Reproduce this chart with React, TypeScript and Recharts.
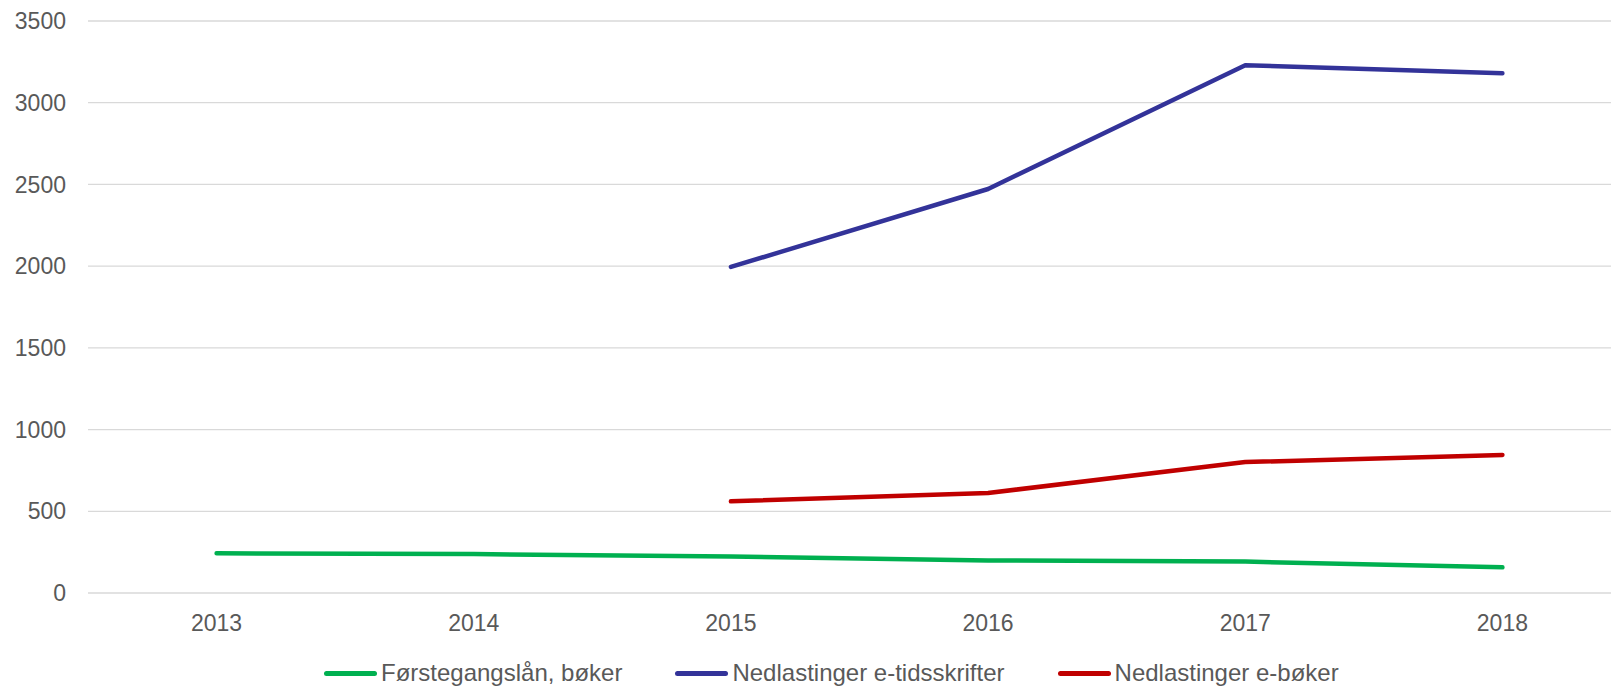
import React from "react";
import { LineChart, Line, XAxis, YAxis, CartesianGrid } from "recharts";

const years = ["2013", "2014", "2015", "2016", "2017", "2018"];
const forstegangslan = [243, 238, 224, 199, 192, 157];
const tidsskrifter: (number | null)[] = [null, null, 1995, 2472, 3229, 3180];
const eboker: (number | null)[] = [null, null, 561, 612, 801, 845];
const yTicks = [0, 500, 1000, 1500, 2000, 2500, 3000, 3500];

const series = [
  { key: "forstegangslan", name: "Førstegangslån, bøker", color: "#00B050" },
  { key: "tidsskrifter", name: "Nedlastinger e-tidsskrifter", color: "#333399" },
  { key: "eboker", name: "Nedlastinger e-bøker", color: "#C00000" },
];

const data = years.map((y, i) => ({
  year: y,
  forstegangslan: forstegangslan[i],
  tidsskrifter: tidsskrifter[i],
  eboker: eboker[i],
}));

const FONT = "'Liberation Sans', Arial, sans-serif";
const TEXT = "#595959";

export default function App() {
  return (
    <div style={{ width: 1611, height: 679, overflow: "hidden", position: "relative" }}>
      <LineChart
        width={1632}
        height={679}
        data={data}
        margin={{ top: 13, right: 9, bottom: 64, left: 0 }}
      >
        <CartesianGrid vertical={false} stroke="#d9d9d9" strokeWidth={1.3} />
        <XAxis
          dataKey="year"
          axisLine={false}
          tickLine={false}
          tickSize={0}
          tickMargin={22}
          padding={{ left: 128.6, right: 128.6 }}
          tick={{ fill: TEXT, fontSize: 23, fontFamily: FONT }}
        />
        <YAxis
          width={80}
          domain={[0, 3500]}
          ticks={yTicks}
          axisLine={false}
          tickLine={false}
          tickSize={0}
          tickMargin={22}
          tick={{ fill: TEXT, fontSize: 23, fontFamily: FONT }}
        />
        {series.map((s) => (
          <Line
            key={s.key}
            type="linear"
            dataKey={s.key}
            name={s.name}
            stroke={s.color}
            strokeWidth={4.5}
            strokeLinecap="round"
            strokeLinejoin="round"
            dot={false}
            activeDot={false}
            connectNulls={false}
            isAnimationActive={false}
          />
        ))}
      </LineChart>
      <div
        style={{
          position: "absolute",
          left: 316,
          top: 652,
          display: "flex",
          alignItems: "center",
          fontFamily: FONT,
          fontSize: 24,
          lineHeight: "26px",
          color: TEXT,
          whiteSpace: "nowrap",
        }}
      >
        {series.map((s, i) => (
          <div key={s.key} style={{ display: "flex", alignItems: "center", marginRight: i < series.length - 1 ? 53 : 0 }}>
            <div style={{ width: 53, height: 5, borderRadius: 3, background: s.color, marginRight: 4 }} />
            <span>{s.name}</span>
          </div>
        ))}
      </div>
    </div>
  );
}
